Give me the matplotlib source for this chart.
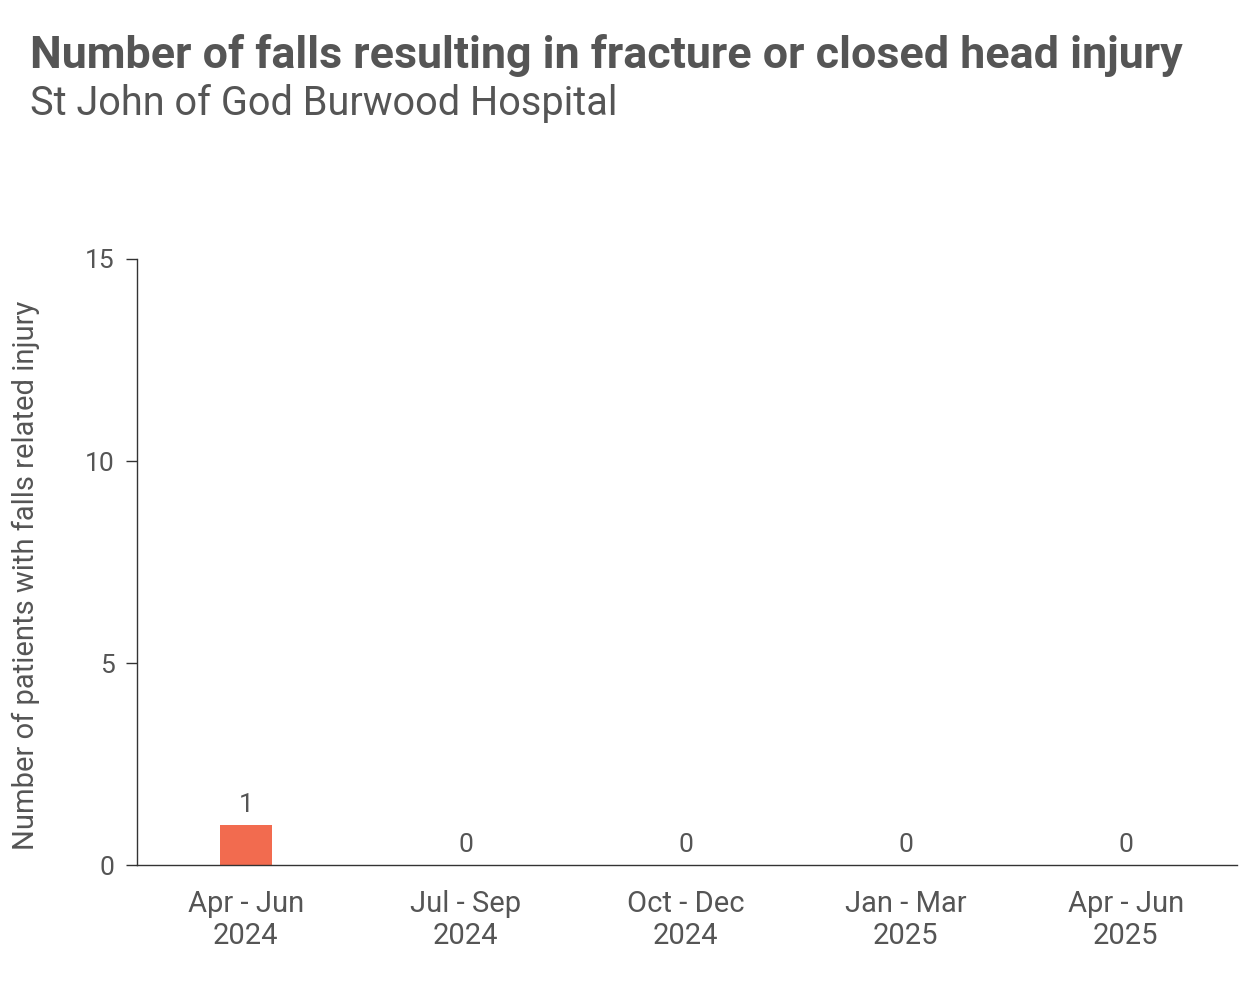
import matplotlib
matplotlib.use("Agg")
import matplotlib.pyplot as plt

categories = ["Apr - Jun\n2024", "Jul - Sep\n2024", "Oct - Dec\n2024", "Jan - Mar\n2025", "Apr - Jun\n2025"]
values = [1, 0, 0, 0, 0]
yticks = [0, 5, 10, 15]

title = "Number of falls resulting in fracture or closed head injury"
subtitle = "St John of God Burwood Hospital"
ylabel = "Number of patients with falls related injury"

grey = "#555555"
bar_color = "#F26B4F"
plt.rcParams['font.family'] = ['Roboto', 'DejaVu Sans']

fig = plt.figure(figsize=(12.6, 9.81), dpi=100)
ax = fig.add_axes([0.1087, 0.1182, 0.873, 0.6178])
x = list(range(len(categories)))
ax.bar(x, values, width=0.236, color=bar_color)
for xi, v in zip(x, values):
    ax.text(xi, v + 0.2, str(v), ha="center", va="bottom", fontsize=19, color=grey)

ax.set_xlim(-0.495, 4.505)
ax.set_ylim(0, 15)
ax.set_yticks(yticks)
ax.set_xticks(x)
ax.set_xticklabels(categories, fontsize=21, color=grey, linespacing=1.2)
ax.tick_params(axis="x", length=0, pad=18)
ax.tick_params(axis="y", length=8, width=1, color="#333333", labelsize=19, labelcolor=grey, pad=8)
for s in ["top", "right"]:
    ax.spines[s].set_visible(False)
for s in ["left", "bottom"]:
    ax.spines[s].set_color("#333333")
    ax.spines[s].set_linewidth(1)
ax.set_ylabel(ylabel, fontsize=21, color=grey)
ax.yaxis.set_label_coords(-0.088, 0.478)

fig.text(0.024, 0.943, title, fontsize=32.3, fontweight="bold", color=grey, va="center", ha="left")
fig.text(0.024, 0.894, subtitle, fontsize=28.5, color=grey, va="center", ha="left")

fig.savefig("out.png", dpi=100, facecolor="white")
